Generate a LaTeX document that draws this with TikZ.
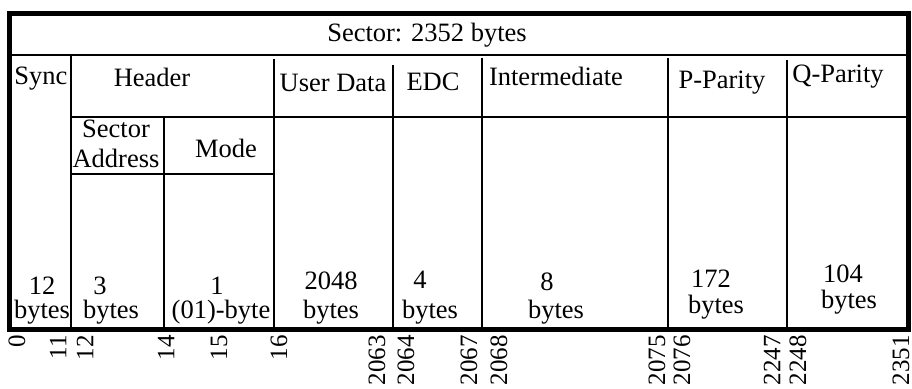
\documentclass[tikz,border=0pt]{standalone}
\usepackage{fontspec}
\setmainfont{Liberation Serif}
\begin{document}
\begin{tikzpicture}[x=0.5pt,y=-0.5pt,
	frame/.style={line width=2.5pt},
	rule/.style={line width=1.1pt},
	lbl/.style={inner sep=0pt,align=center,font=\fontsize{13.25}{15}\selectfont},
	tick/.style={inner sep=0pt,rotate=90,anchor=east,font=\fontsize{12.5}{14}\selectfont}]

	\useasboundingbox (0,0) rectangle (912,389);

	\draw[rule] (9.5,55) -- (908,55);
	\draw[rule] (71,117) -- (908,117);
	\draw[rule] (71,174) -- (274,174);
	\draw[rule] (71,55) -- (71,330);
	\draw[rule] (164,117) -- (164,330);
	\draw[rule] (274,59) -- (274,330);
	\draw[rule] (393,65) -- (393,330);
	\draw[rule] (482,58) -- (482,330);
	\draw[rule] (668,58) -- (668,330);
	\draw[rule] (787,60) -- (787,330);
	\draw[frame] (9.5,13.5) rectangle (908,330);

	\node[lbl,anchor=base] (title) at (427,42) {Sector: 2352 bytes};
	\node[lbl,anchor=base west] (sync) at (14,85) {Sync};
	\node[lbl,anchor=base] (header) at (152,87) {Header};
	\node[lbl,anchor=base] (userdata) at (333,92) {User Data};
	\node[lbl,anchor=base] (edc) at (433,91) {EDC};
	\node[lbl,anchor=base] (intermediate) at (556,86) {Intermediate};
	\node[lbl,anchor=base] (pparity) at (722,89) {P-Parity};
	\node[lbl,anchor=base] (qparity) at (838,83) {Q-Parity};
	\node[lbl] (address) at (116,144) {Sector\\Address};
	\node[lbl,anchor=base] (mode) at (226,158) {Mode};

	\node[lbl,font=\fontsize{13.25}{12}\selectfont] (syncsize) at (42,301) {12\\bytes};
	\node[lbl,font=\fontsize{13.25}{12}\selectfont] (addresssize) at (111,301) {3\hspace*{11pt}\\bytes};
	\node[lbl,font=\fontsize{13.25}{12}\selectfont] (modesize) at (221,301) {1\hspace*{4pt}\\(01)-byte};
	\node[lbl,font=\fontsize{13.25}{14.5}\selectfont] (userdatasize) at (331,298) {2048\\bytes};
	\node[lbl,font=\fontsize{13.25}{15}\selectfont] (edcsize) at (430,298) {4\hspace*{10pt}\\bytes};
	\node[lbl,font=\fontsize{13.25}{14}\selectfont] (intermediatesize) at (556,299) {8\hspace*{9pt}\\bytes};
	\node[lbl,font=\fontsize{13.25}{13}\selectfont] (pparitysize) at (716,295) {172\hspace*{5pt}\\bytes};
	\node[lbl,font=\fontsize{13.25}{13}\selectfont] (qparitysize) at (849,290) {104\hspace*{6pt}\\bytes};

	\foreach \x/\n in {17/0,58/11,85/12,166/14,219/15,279/16,377/2063,406/2064,469/2067,499/2068,657/2075,682/2076,772/2247,798/2248,901/2351}
		\node[tick] (t\n) at (\x,335) {\n};

\end{tikzpicture}
\end{document}
